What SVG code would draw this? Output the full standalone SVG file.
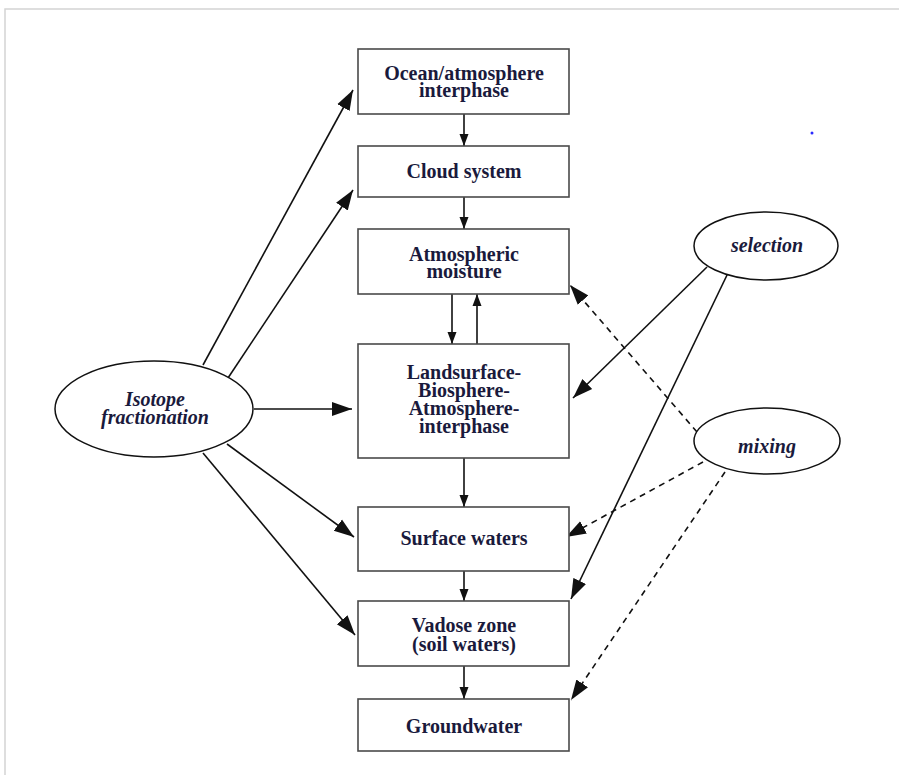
<svg xmlns="http://www.w3.org/2000/svg" width="899" height="775" viewBox="0 0 899 775">
<style>
.box{fill:#fff;stroke:#4a4a4a;stroke-width:1.6}
.ell{fill:#fff;stroke:#111;stroke-width:1.5}
.t{font-family:"Liberation Serif","Times New Roman",serif;font-weight:bold;font-size:20px;fill:#1a1a3c;text-anchor:middle}
.ti{font-style:italic}
.c{stroke:#111;stroke-width:1.6;fill:none}
.d{stroke-dasharray:6,5}
</style>
<defs>
<marker id="big" markerUnits="userSpaceOnUse" markerWidth="22" markerHeight="16" refX="20" refY="8" orient="auto">
<path d="M0,1 L20,8 L0,15 z" fill="#111"/>
</marker>
<marker id="sm" markerUnits="userSpaceOnUse" markerWidth="14" markerHeight="10" refX="12" refY="5" orient="auto">
<path d="M0,0.5 L12,5 L0,9.5 z" fill="#111"/>
</marker>
</defs>
<rect x="0" y="0" width="899" height="775" fill="#fff"/>
<path d="M5,775 L5,9 L899,9" fill="none" stroke="#d4d4d4" stroke-width="1.5"/>
<circle cx="812" cy="133" r="1.5" fill="#2a2aff"/>

<g id="connectors">
<line class="c" x1="464" y1="114" x2="464" y2="146" marker-end="url(#sm)"/>
<line class="c" x1="464" y1="197" x2="464" y2="229" marker-end="url(#sm)"/>
<line class="c" x1="452" y1="294" x2="452" y2="344" marker-end="url(#sm)"/>
<line class="c" x1="477" y1="344" x2="477" y2="294" marker-end="url(#sm)"/>
<line class="c" x1="464" y1="458" x2="464" y2="507" marker-end="url(#sm)"/>
<line class="c" x1="464" y1="571" x2="464" y2="601" marker-end="url(#sm)"/>
<line class="c" x1="464" y1="666" x2="464" y2="699" marker-end="url(#sm)"/>

<line class="c" x1="203" y1="365" x2="353" y2="90" marker-end="url(#big)"/>
<line class="c" x1="228" y1="378" x2="353" y2="190" marker-end="url(#big)"/>
<line class="c" x1="254" y1="409" x2="352" y2="409" marker-end="url(#big)"/>
<line class="c" x1="227" y1="444" x2="354" y2="537" marker-end="url(#big)"/>
<line class="c" x1="203" y1="453" x2="355" y2="635" marker-end="url(#big)"/>

<line class="c" x1="707" y1="267" x2="573" y2="398" marker-end="url(#big)"/>
<line class="c" x1="728" y1="273" x2="571" y2="599" marker-end="url(#big)"/>

<line class="c d" x1="697" y1="432" x2="570" y2="285" marker-end="url(#big)"/>
<line class="c d" x1="703" y1="462" x2="566" y2="537" marker-end="url(#big)"/>
<line class="c d" x1="725" y1="472" x2="571" y2="700" marker-end="url(#big)"/>
</g>

<g id="ocean">
<rect class="box" x="358" y="49" width="211" height="65"/>
<text class="t" x="464" y="80">Ocean/atmosphere</text>
<text class="t" x="464" y="97">interphase</text>
</g>
<g id="cloud">
<rect class="box" x="358" y="146" width="211" height="51"/>
<text class="t" x="464" y="178">Cloud system</text>
</g>
<g id="atmos">
<rect class="box" x="358" y="229" width="211" height="65"/>
<text class="t" x="464" y="261">Atmospheric</text>
<text class="t" x="464" y="278">moisture</text>
</g>
<g id="land">
<rect class="box" x="358" y="344" width="211" height="114"/>
<text class="t" x="464" y="379">Landsurface-</text>
<text class="t" x="464" y="397">Biosphere-</text>
<text class="t" x="464" y="415">Atmosphere-</text>
<text class="t" x="464" y="433">interphase</text>
</g>
<g id="surface">
<rect class="box" x="358" y="507" width="211" height="64"/>
<text class="t" x="464" y="545">Surface waters</text>
</g>
<g id="vadose">
<rect class="box" x="358" y="601" width="211" height="65"/>
<text class="t" x="464" y="632">Vadose zone</text>
<text class="t" x="464" y="651">(soil waters)</text>
</g>
<g id="ground">
<rect class="box" x="358" y="699" width="211" height="52"/>
<text class="t" x="464" y="733">Groundwater</text>
</g>

<g id="isotope">
<ellipse class="ell" cx="154" cy="409" rx="99" ry="48"/>
<text class="t ti" x="155" y="406">Isotope</text>
<text class="t ti" x="155" y="424">fractionation</text>
</g>
<g id="selection">
<ellipse class="ell" cx="766" cy="246" rx="72" ry="34"/>
<text class="t ti" x="767" y="252">selection</text>
</g>
<g id="mixing">
<ellipse class="ell" cx="767" cy="441" rx="73" ry="33"/>
<text class="t ti" x="767" y="453">mixing</text>
</g>
</svg>
